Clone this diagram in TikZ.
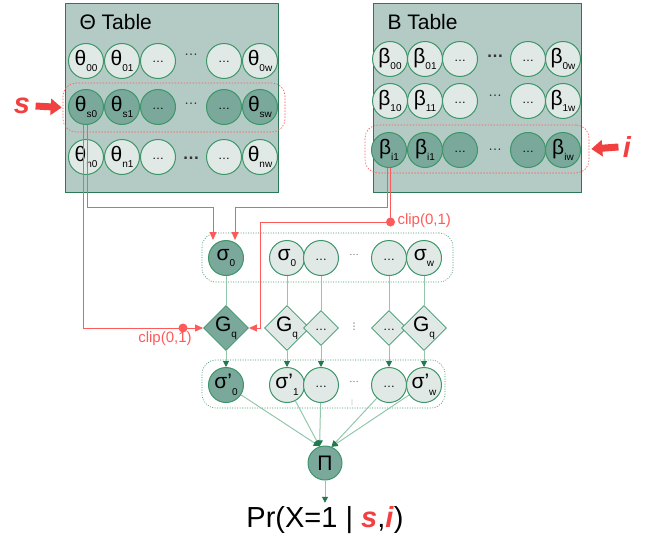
\documentclass[tikz,border=0pt]{standalone}
\usepackage{fontspec}
\setmainfont{Liberation Sans}
\newfontfamily\dejavu{DejaVu Sans}
\usetikzlibrary{arrows.meta,shapes.geometric}
\definecolor{boxfill}{HTML}{B4CBC5}
\definecolor{boxdraw}{HTML}{2A7855}
\definecolor{clight}{HTML}{E1E9E6}
\definecolor{cdark}{HTML}{7AA89B}
\definecolor{cborder}{HTML}{3C9669}
\definecolor{gline}{HTML}{92C7AC}
\definecolor{gtip}{HTML}{1F7A4C}
\definecolor{rline}{HTML}{FF5A5A}
\definecolor{rbig}{HTML}{F23F3F}
\newcommand{\nl}[2]{\fontsize{21}{21}\selectfont #1\raisebox{-6.5pt}{\fontsize{10}{10}\selectfont #2}}
\newcommand{\cdl}{\raisebox{-4pt}{\fontsize{12}{12}\selectfont …}}
\begin{document}
\begin{tikzpicture}[x=1pt,y=-1pt,
  tbox/.style={draw=boxdraw, fill=boxfill, line width=1.3pt, anchor=north west, inner sep=0pt},
  ttl/.style={anchor=west, font=\fontsize{21}{21}\selectfont},
  lc/.style={circle, draw=cborder, fill=clight, line width=1pt, minimum size=35pt, inner sep=0pt},
  dc/.style={lc, fill=cdark},
  ld/.style={diamond, aspect=1, draw=cborder, fill=clight, line width=0.8pt, minimum size=35pt, inner sep=0pt},
  dd/.style={ld, fill=cdark},
  gap/.style={font=\fontsize{14}{14}\selectfont, text=black!80},
  sgap/.style={font=\fontsize{10}{10}\selectfont, text=black!60},
  vgap/.style={font=\dejavu\fontsize{9}{9}\selectfont, text=black!70},
  rowsel/.style={draw=rline, dash pattern=on 1.5pt off 1.5pt, line width=0.6pt, rounded corners=13pt, inner sep=0pt},
  grp/.style={draw=cborder, dash pattern=on 1pt off 1.5pt, line width=0.6pt, rounded corners=14pt, inner sep=0pt},
  gln/.style={draw=gline, line width=1pt},
  garr/.style={gln, -{Triangle[length=6pt,width=6pt,color=gtip]}},
  rl/.style={draw=rline, line width=1pt},
  rarr/.style={rl, -{Triangle[length=8pt,width=7pt]}},
  rdot/.style={circle, fill=rline, inner sep=0pt, minimum size=9pt},
  clipl/.style={text=rline, font=\fontsize{15}{15}\selectfont},
  bigarrow/.style={draw=rbig, line width=7pt, -{Triangle[length=11pt,width=16pt]}},
  bigl/.style={text=rbig, font=\fontsize{29}{29}\selectfont\bfseries\itshape}
]
\useasboundingbox (0,0) rectangle (652,535);

% ---------- Theta table ----------
\node[tbox, minimum width=213pt, minimum height=189pt] (thetaT) at (65,3) {};
\node[ttl] (thetaTitle) at (76,22) {Θ Table};
\node[rowsel, minimum width=222pt, minimum height=49pt] (srow) at (174,107.5) {};

\node[lc] (t00) at (86,61) {\nl{θ}{00}};
\node[lc] (t01) at (122,61) {\nl{θ}{01}};
\node[lc] (t02) at (158,61) {\cdl};
\node[gap] (t0g) at (191,55) {…};
\node[lc] (t03) at (224,61) {\cdl};
\node[lc] (t0w) at (260,61) {\nl{θ}{0w}};

\node[dc] (ts0) at (86,107) {\nl{θ}{s0}};
\node[dc] (ts1) at (122,107) {\nl{θ}{s1}};
\node[dc] (ts2) at (158,107) {\cdl};
\node[gap] (tsg) at (191,104) {…};
\node[dc] (ts3) at (224,107) {\cdl};
\node[dc] (tsw) at (260,107) {\nl{θ}{sw}};

\node[lc] (tn0) at (86,157) {\nl{θ}{n0}};
\node[lc] (tn1) at (122,157) {\nl{θ}{n1}};
\node[lc] (tn2) at (158,157) {\cdl};
\node[gap, font=\fontsize{17}{17}\selectfont\bfseries] (tng) at (191,158) {…};
\node[lc] (tn3) at (224,157) {\cdl};
\node[lc] (tnw) at (260,157) {\nl{θ}{nw}};

% ---------- B table ----------
\node[tbox, minimum width=208pt, minimum height=189pt] (betaT) at (373,3) {};
\node[ttl] (betaTitle) at (384,22) {B Table};
\node[rowsel, minimum width=224pt, minimum height=48pt] (irow) at (477,149) {};

\node[lc] (b00) at (390,59) {\nl{β}{00}};
\node[lc] (b01) at (425,59) {\nl{β}{01}};
\node[lc] (b02) at (460,59) {\cdl};
\node[gap, font=\fontsize{17}{17}\selectfont\bfseries] (b0g) at (495,56) {…};
\node[lc] (b03) at (528,59) {\cdl};
\node[lc] (b0w) at (563,59) {\nl{β}{0w}};

\node[lc] (b10) at (390,101) {\nl{β}{10}};
\node[lc] (b11) at (425,101) {\nl{β}{11}};
\node[lc] (b12) at (460,101) {\cdl};
\node[gap] (b1g) at (495,96) {…};
\node[lc] (b13) at (528,101) {\cdl};
\node[lc] (b1w) at (563,101) {\nl{β}{1w}};

\node[dc] (bi1) at (389,150) {\nl{β}{i1}};
\node[dc] (bi2) at (425,150) {\nl{β}{i1}};
\node[dc] (bi3) at (460,150) {\cdl};
\node[gap] (big) at (495,150) {…};
\node[dc] (bi4) at (528,150) {\cdl};
\node[dc] (biw) at (563,150) {\nl{β}{iw}};

% ---------- selectors ----------
\node[bigl] (sTxt) at (22,106) {s};
\node[bigl] (iTxt) at (627,147) {i};
\draw[bigarrow] ([xshift=2pt]sTxt.east) -- ([xshift=-1pt]srow.west);
\draw[bigarrow] ([xshift=-1pt]iTxt.west) -- ([xshift=2pt]irow.east);

% ---------- sigma layer ----------
\node[grp, minimum width=251pt, minimum height=49pt] (sgrp) at (327.5,257.5) {};
\node[dc] (s0d) at (226,258) {\nl{σ}{0}};
\node[lc] (s0) at (287,258) {\nl{σ}{0}};
\node[lc] (s1) at (321,258) {\cdl};
\node[sgap] (sg) at (354,255) {…};
\node[lc] (s2) at (389,258) {\cdl};
\node[lc] (sw) at (424,258) {\nl{σ}{w}};

% ---------- G layer ----------
\node[dd] (g0d) at (226,328) {\nl{G}{q}};
\node[ld] (g0) at (287,328) {\nl{G}{q}};
\node[ld] (g1) at (321,328) {\cdl};
\node[vgap] (gg) at (354,327) {⋮};
\node[ld] (g2) at (389,328) {\cdl};
\node[ld] (gw) at (424,328) {\nl{G}{q}};

% ---------- sigma' layer ----------
\node[grp, minimum width=243pt, minimum height=48pt] (pgrp) at (323.5,384) {};
\node[dc] (p0d) at (226,385) {\nl{σ'}{0}};
\node[lc] (p1) at (287,385) {\nl{σ'}{1}};
\node[lc] (p2) at (321,385) {\cdl};
\node[sgap] (pg) at (354,382) {…};
\node[vgap, font=\dejavu\fontsize{6}{6}\selectfont] (pg2) at (352,403) {⋮};
\node[lc] (p3) at (389,385) {\cdl};
\node[lc] (pw) at (424,385) {\nl{σ'}{w}};

% ---------- product ----------
\node[dc, minimum size=34pt] (pi) at (325,463) {\fontsize{21}{21}\selectfont Π};
\node[anchor=base, font=\fontsize{29}{29}\selectfont, inner sep=0pt] (out) at (325,527)
  {Pr(X=1 | \textcolor{rbig}{\textbf{\textit{s}}},\textcolor{rbig}{\textbf{\textit{i}}})};

% ---------- green connectors ----------
\foreach \a/\b in {s0d/g0d, s0/g0, s1/g1, s2/g2, sw/gw}
  \draw[gln] (\a) -- (\b);
\foreach \a/\b in {g0d/p0d, g0/p1, g1/p2, g2/p3, gw/pw}
  \draw[garr] (\a) -- (\b);
\foreach \a in {p0d, p1, p2}
  \draw[garr] (\a) -- (pi.108);
\foreach \a in {p3, pw}
  \draw[garr] (\a) -- (pi.68);
\draw[garr] (pi) -- ([yshift=3pt]out.north);

% ---------- red connectors ----------
\coordinate (aTurn) at (213,207);
\coordinate (cTurn) at (235,207);
\coordinate (dTurn) at (260,222);
\node[rdot] (dotL) at (183,328) {};
\node[rdot] (dotR) at (390.5,222) {};
\node[clipl] (clipL) at (165,339) {clip(0,1)};
\node[clipl, anchor=west] (clipR) at (394,221) {clip(0,1)};

\draw[rarr] ([xshift=1.5pt]ts0.south) |- (aTurn) -- (aTurn |- s0d.north);
\draw[rarr] ([xshift=-2.5pt]ts0.south) |- (g0d.west);
\draw[rarr] ([xshift=-2pt]bi1.south) |- (cTurn) -- (cTurn |- s0d.north);
\draw[rarr] ([xshift=1.5pt]bi1.south) |- (dTurn) |- (g0d.east);
\end{tikzpicture}
\end{document}
